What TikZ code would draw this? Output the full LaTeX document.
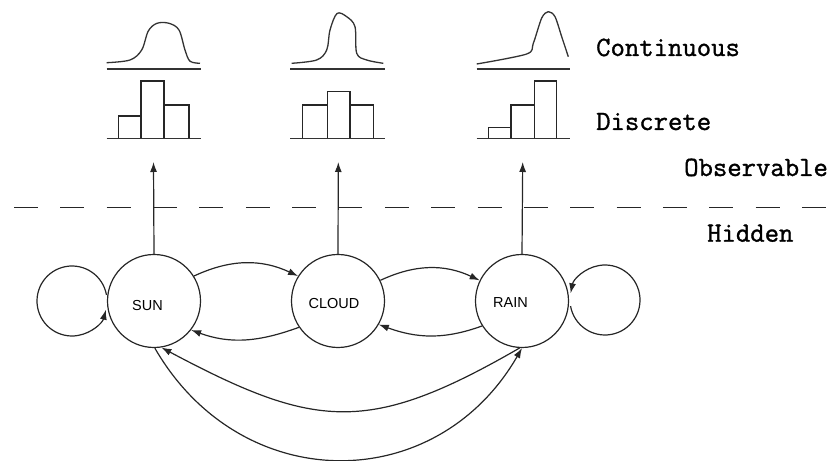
\documentclass[tikz,border=0pt]{standalone}
\usepackage{fontspec}
\setmainfont{Liberation Sans}
\newfontfamily\monofont[FakeBold=1.2]{Latin Modern Mono}
\usetikzlibrary{arrows.meta}

\begin{document}
\begin{tikzpicture}[x=1pt,y=1pt,
  ln/.style={line width=1.2pt, draw=black!85},
  arr/.style={ln, -{Latex[length=10pt,width=7pt]}},
  state/.style={circle, ln, minimum size=93pt, inner sep=0pt},
  statetext/.style={font=\fontsize{14.5}{16}\selectfont, anchor=base, inner sep=0pt},
  lbl/.style={font=\monofont\fontsize{27.9}{30}\selectfont, anchor=base west, inner sep=0pt},
  bar/.style={line width=1.2pt, draw=black!85},
  axis/.style={line width=1.5pt, draw=black!80},
  density/.style={line width=1.3pt, draw=black!80, line join=round}]
\useasboundingbox (0,0) rectangle (834,460);

% hidden states
\node[state] (sun)   at (154,159) {};
\node[state] (cloud) at (338,159) {};
\node[state] (rain)  at (522,159) {};
\node[statetext] (suntext)   at (147.5,149) {SUN};
\node[statetext] (cloudtext) at (334,151.7) {CLOUD};
\node[statetext] (raintext)  at (510.5,152.3) {RAIN};

% self transitions
\coordinate (sunloop)  at (72,159);
\coordinate (rainloop) at (605,160);
\draw[arr] (sunloop) ++(10:35) arc[start angle=10, end angle=345.5, radius=35pt];
\draw[arr] (rainloop) ++(190:35) arc[start angle=190, end angle=529, radius=35pt];

% neighbour transitions
\draw[arr] (sun.32) to[out=25,in=155] (cloud.148);
\draw[arr] (cloud.214) to[out=200,in=-20] (sun.-38);
\draw[arr] (cloud.26) to[out=25,in=155] (rain.154);
\draw[arr] (rain.212) to[out=200,in=-20] (cloud.-30);

% long transitions between SUN and RAIN
\draw[arr] (sun.-89) to[out=-60,in=-120,looseness=1.2] (rain.-90);
\draw[arr] (rain.-93) to[out=-150,in=-28,looseness=1.25] (sun.-81);

% emissions
\coordinate (sunobs)   at (153.5,298);
\coordinate (cloudobs) at (338.3,298);
\coordinate (rainobs)  at (522.7,298);
\draw[arr] (sun.north) -- (sunobs);
\draw[arr] (cloud.north) -- (cloudobs);
\draw[arr] (rain.north) -- (rainobs);

% observable / hidden boundary
\draw[ln, dash pattern=on 24pt off 22.35pt] (14,252.3) -- (834,252.3);

% discrete distributions
\draw[bar] (118.3,321.7) rectangle (141,344);
\draw[bar] (141,321.7) rectangle (164,379);
\draw[bar] (164,321.7) rectangle (189,355);
\draw[axis] (106.7,321.7) -- (200.7,321.7);

\draw[bar] (302.7,321.7) rectangle (327.3,355);
\draw[bar] (327.3,321.7) rectangle (350,368.3);
\draw[bar] (350,321.7) rectangle (373.3,355);
\draw[axis] (290,321.7) -- (385,321.7);

\draw[bar] (488.3,321.7) rectangle (511,332.7);
\draw[bar] (511,321.7) rectangle (534.3,355);
\draw[bar] (534.3,321.7) rectangle (556.7,379);
\draw[axis] (476.7,321.7) -- (570,321.7);

% continuous distributions
\draw[density] plot[smooth, tension=0.55] coordinates {(106.7,397.3) (130,400) (141.7,410) (148.3,429) (157,436.7) (169,436.7) (179,430) (185,410) (190,398.8) (200,396.7)};
\draw[axis] (106.7,391) -- (200.7,391);

\draw[density] plot[smooth, tension=0.55] coordinates {(291.7,396.7) (316.7,400) (326.7,410) (330,430) (337,446.5) (346.7,443.3) (355,433.3) (356.7,406.7) (366.7,400) (383.3,396.7)};
\draw[axis] (290,391) -- (385,391);

\draw[density] plot[smooth, tension=0.5] coordinates {(476.7,396) (526.7,406) (533.3,416.7) (541.7,442) (548.3,448.3) (555,443.3) (561.7,423.3) (568.3,403.3)};
\draw[axis] (476.7,391) -- (570,391);

% labels
\node[lbl] (cont)   at (596,404)   {Continuous};
\node[lbl] (disc)   at (596,330)   {Discrete};
\node[lbl] (obs)    at (684,284)   {Observable};
\node[lbl] (hidden) at (707,218.3) {Hidden};
\end{tikzpicture}
\end{document}
